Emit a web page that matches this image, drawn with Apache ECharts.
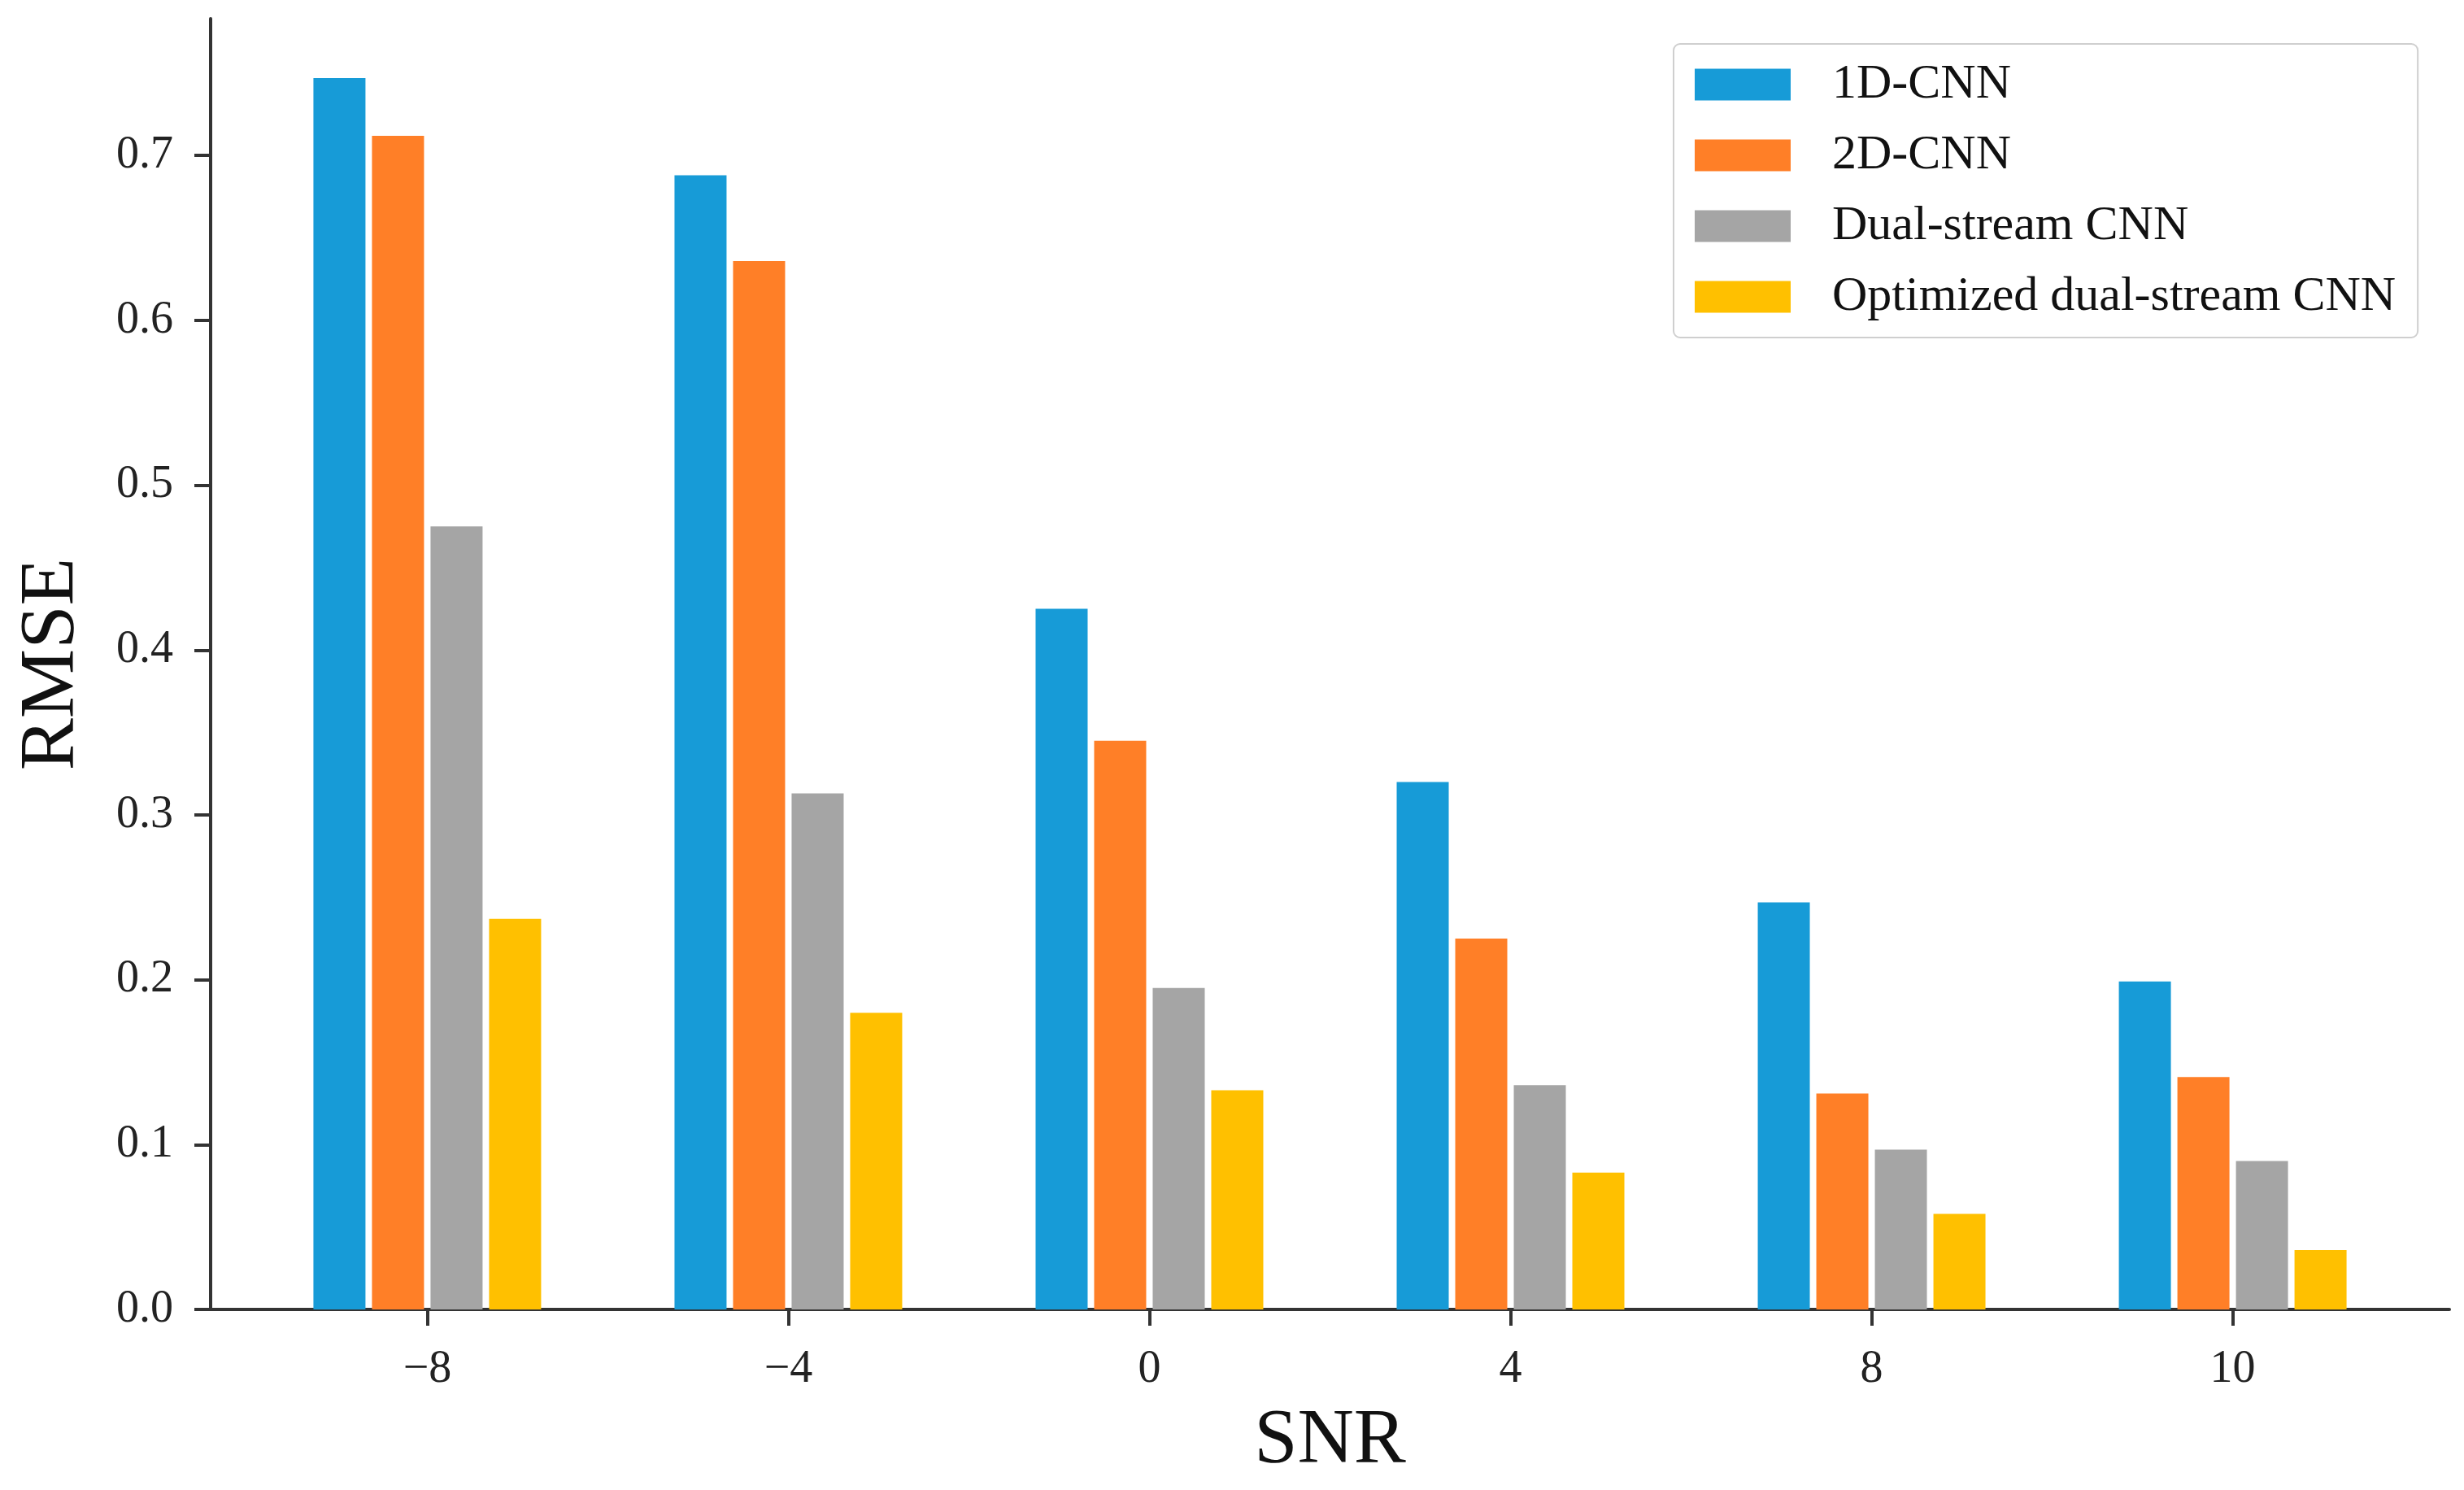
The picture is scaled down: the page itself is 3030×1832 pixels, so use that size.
<!DOCTYPE html>
<html>
<head>
<meta charset="utf-8">
<script src="https://cdn.jsdelivr.net/npm/echarts@6/dist/echarts.min.js"></script>
<style>
html,body{margin:0;padding:0;background:#fff;}
#chart{width:3030px;height:1832px;}
</style>
</head>
<body>
<div id="chart"></div>
<script>
var categories = ['\u22128', '\u22124', '0', '4', '8', '10'];
var seriesNames = ['1D-CNN', '2D-CNN', 'Dual-stream CNN', 'Optimized dual-stream CNN'];
var cnn1d = [0.747, 0.688, 0.425, 0.320, 0.247, 0.199];
var cnn2d = [0.712, 0.636, 0.345, 0.225, 0.131, 0.141];
var dualStream = [0.475, 0.313, 0.195, 0.136, 0.097, 0.090];
var optDualStream = [0.237, 0.180, 0.133, 0.083, 0.058, 0.036];
var yTicks = [0, 0.1, 0.2, 0.3, 0.4, 0.5, 0.6, 0.7];
var colors = ['#179BD7', '#FF7F27', '#A5A5A5', '#FFC000'];

var FONT = 'Liberation Serif';
var allValues = [cnn1d, cnn2d, dualStream, optDualStream];
var catIdx = categories.map(function (c, i) { return i; });

function toPoints(arr) { return arr.map(function (v, i) { return [i, v]; }); }

var chart = echarts.init(document.getElementById('chart'), null, {renderer: 'canvas'});
var option = {
  backgroundColor: '#ffffff',
  animation: false,
  color: colors,
  grid: {left: 259, right: 18, top: 23, bottom: 222, containLabel: false},
  legend: {
    orient: 'vertical',
    left: 2058,
    top: 54,
    padding: [20, 27, 20, 26],
    itemGap: 27,
    itemWidth: 118,
    itemHeight: 39,
    icon: 'rect',
    backgroundColor: '#ffffff',
    borderColor: '#cfcfcf',
    borderWidth: 2,
    borderRadius: 8,
    textStyle: {fontFamily: FONT, fontSize: 60, color: '#111', padding: [0, 0, 0, 46]},
    data: seriesNames
  },
  xAxis: {
    type: 'value',
    min: -0.6,
    max: 5.6,
    name: 'SNR',
    nameLocation: 'middle',
    nameGap: 115,
    nameTextStyle: {fontFamily: FONT, fontSize: 96, color: '#111'},
    axisLine: {show: true, onZero: false, lineStyle: {color: '#333', width: 4}},
    axisTick: {show: true, length: 20, lineStyle: {color: '#333', width: 4}, customValues: catIdx},
    axisLabel: {
      fontFamily: FONT, fontSize: 56, color: '#222', margin: 46,
      customValues: catIdx,
      formatter: function (v) { return categories[Math.round(v)]; }
    },
    splitLine: {show: false}
  },
  yAxis: {
    type: 'value',
    min: 0,
    max: 0.783,
    name: 'RMSE',
    nameLocation: 'middle',
    nameRotate: 90,
    nameGap: 146,
    nameTextStyle: {fontFamily: FONT, fontSize: 96, color: '#111'},
    axisLine: {show: true, onZero: false, lineStyle: {color: '#333', width: 4}},
    axisTick: {show: true, length: 20, lineStyle: {color: '#333', width: 4}, customValues: yTicks},
    axisLabel: {
      fontFamily: FONT, fontSize: 56, color: '#222', margin: 46,
      customValues: yTicks,
      formatter: function (v) { return v.toFixed(1); }
    },
    splitLine: {show: false}
  },
  series: seriesNames.map(function (name, k) {
    return {
      name: name,
      type: 'bar',
      barWidth: 64,
      barGap: '12.5%',
      itemStyle: {color: colors[k]},
      data: toPoints(allValues[k])
    };
  })
};
chart.setOption(option);
</script>
</body>
</html>
